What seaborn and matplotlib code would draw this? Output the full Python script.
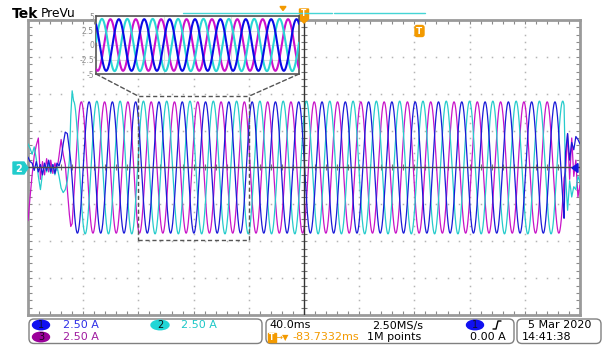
import numpy as np
import pandas as pd
import matplotlib
matplotlib.use("Agg")
import matplotlib.pyplot as plt
import seaborn as sns
from matplotlib.patches import Polygon, FancyBboxPatch, Ellipse, Rectangle, ConnectionPatch

# ---------------- data ----------------
channels = ["1", "2", "3"]                 # blue, cyan, magenta
peak_current_a = [4.45, 4.5, 4.45]         # steady peak current per channel (A)
lag_after_cyan_deg = [240.0, 0.0, 120.0]   # phase lag of each channel behind channel 2
line_period_ms = 16.88
first_cyan_peak_ms = 33.0
steady_start_ms = 33.0
steady_end_ms = 388.5

startup_t_ms = [0, 1.5, 3, 4.5, 6, 7.5, 9, 10.5, 12, 13.5, 15, 16.5, 18, 19.5,
                21, 22.5, 24, 25.5, 27, 28.5, 30, 31, 32]
startup_ch1 = [0.7, 0.4, 0.3, -0.2, 0.4, -0.3, 0.2, -0.5, 0.3, -0.2, 0.5, -0.3,
               0.2, -0.4, 0.3, 0.1, 0.6, 1.6, 2.4, 2.3, 1.2, 0.4, -0.8]
startup_ch2 = [1.6, 1.3, 0.9, 1.4, 0.6, -0.6, -1.5, -0.4, 0.2, -0.3, 0.3, -0.4,
               0.2, -0.5, 0.1, -0.6, -1.4, -1.7, -1.5, -0.9, 0.5, 3.5, 5.2]
startup_ch3 = [-3.6, -2.0, -0.5, 0.8, 1.5, 2.0, -0.8, 0.4, -0.5, 0.6, -0.3, 0.5,
               -0.4, 0.3, -0.2, 0.8, 1.9, 0.9, 0.2, -1.5, -3.2, -4.0, -3.8]

tail_t_ms = [389.5, 391, 392.5, 394, 395.5, 397, 398.5, 400]
tail_ch1 = [1.0, 2.3, 0.5, 1.7, 1.2, 2.1, 1.9, 1.6]
tail_ch2 = [-0.5, -2.9, -0.9, -2.0, -1.3, -1.5, -0.6, -1.0]
tail_ch3 = [-0.3, 2.3, -0.8, 2.0, -0.6, 0.5, -2.0, -1.2]

zoom_window_ms = [79.7, 160.5]       # dashed box on the main trace
zoom_window_a = [-4.9, 4.85]
inset_window_ms = [79.7, 214.7]      # span drawn in the magnified panel (about 8 cycles)
inset_ticks = [-5, -2.5, 0, 2.5, 5]
inset_tick_labels = ["-5", "-2.5", "0", "2.5", "5"]

scale_labels = ["2.50 A", "2.50 A", "2.50 A"]
timebase_label = "40.0ms"
sample_rate_label = "2.50MS/s"
trigger_pos_label = "-83.7332ms"
record_label = "1M points"
trigger_level_label = "0.00 A"
date_label = "5 Mar 2020"
time_label = "14:41:38"

# ---------------- styles ----------------
trace_colors = {"1": "#1a1ad8", "2": "#26cccc", "3": "#c814c8"}
inset_colors = {"1": "#0a0ae6", "2": "#2ad6d6", "3": "#cc10cc"}
label_colors = ["#2f2fe6", "#1ec8c8", "#a01ca0"]
pill_colors = ["#1010f0", "#22d6d6", "#9a009a"]
orange = "#f39a00"

# ---------------- build traces ----------------
startup = [startup_ch1, startup_ch2, startup_ch3]
tail = [tail_ch1, tail_ch2, tail_ch3]
t_steady = np.arange(steady_start_ms, steady_end_ms, 0.05)
frames = []
for k, ch in enumerate(channels):
    phase = 2 * np.pi * (t_steady - first_cyan_peak_ms) / line_period_ms - np.deg2rad(lag_after_cyan_deg[k])
    i_steady = peak_current_a[k] * np.cos(phase)
    t_all = np.concatenate([startup_t_ms, t_steady, tail_t_ms])
    i_all = np.concatenate([startup[k], i_steady, tail[k]])
    frames.append(pd.DataFrame({"t": t_all, "i": i_all, "ch": ch}))
df = pd.concat(frames, ignore_index=True)

sns.set_style("white")
plt.rcParams["font.family"] = ["DejaVu Sans"]

W, H = 605, 345
fig = plt.figure(figsize=(W / 100, H / 100), dpi=100)
fig.patch.set_facecolor("white")

def px_rect(x0, y0, x1, y1):
    return [x0 / W, 1 - y1 / H, (x1 - x0) / W, (y1 - y0) / H]

# ---------------- main graticule ----------------
ax = fig.add_axes(px_rect(28, 20, 580, 315))
ax.set_xlim(0, 400)
ax.set_ylim(-10, 10)
ax.set_xticks([])
ax.set_yticks([])
for s in ax.spines.values():
    s.set_color("#9a9a9a")
    s.set_linewidth(2)

gcol = "#b4b4b4"
ys_dots = np.arange(-10, 10.01, 0.5)
xs_dots = np.arange(0, 400.01, 8)
for xd in range(40, 400, 40):
    if xd != 200:
        ax.plot(np.full_like(ys_dots, xd), ys_dots, ls="", marker="s", ms=1.1, color=gcol, mew=0)
for yd in [-7.5, -5, -2.5, 2.5, 5, 7.5]:
    ax.plot(xs_dots, np.full_like(xs_dots, yd), ls="", marker="s", ms=1.1, color=gcol, mew=0)
ax.plot(xs_dots, np.full_like(xs_dots, 10), ls="", marker="|", ms=6, color="#8a8a8a", mew=0.8)
ax.plot(xs_dots, np.full_like(xs_dots, -10), ls="", marker="|", ms=6, color="#8a8a8a", mew=0.8)
ax.plot(np.full_like(ys_dots, 0), ys_dots, ls="", marker="_", ms=6, color="#8a8a8a", mew=0.8)
ax.plot(np.full_like(ys_dots, 400), ys_dots, ls="", marker="_", ms=6, color="#8a8a8a", mew=0.8)
ax.plot(xs_dots, np.zeros_like(xs_dots), ls="", marker="|", ms=4, color="#777777", mew=0.8)
ax.plot(np.full_like(ys_dots, 200), ys_dots, ls="", marker="_", ms=4, color="#777777", mew=0.8)

sns.lineplot(data=df, x="t", y="i", hue="ch", hue_order=["3", "2", "1"], palette=trace_colors,
             estimator=None, sort=False, lw=0.9, legend=False, ax=ax, zorder=3)
ax.axhline(0, color="#4a4a4a", lw=1, zorder=4)
ax.axvline(200, color="#333333", lw=1, zorder=4)
ax.set_xlabel("")
ax.set_ylabel("")

ax.add_patch(Rectangle((zoom_window_ms[0], zoom_window_a[0]),
                       zoom_window_ms[1] - zoom_window_ms[0], zoom_window_a[1] - zoom_window_a[0],
                       fill=False, ls=(0, (3, 2)), lw=1, ec="#555555", zorder=5))

# ---------------- overlay (pixel coordinates) ----------------
ov = fig.add_axes([0, 0, 1, 1], zorder=5)
ov.set_xlim(0, W)
ov.set_ylim(H, 0)
ov.axis("off")
ov.patch.set_alpha(0)

ov.text(12, 14, "Tek", fontsize=10, fontweight="bold", color="black", va="center", ha="left")
ov.text(41, 13.5, "PreVu", fontsize=8.8, color="black", va="center", ha="left")
ov.plot([183, 332], [13.3, 13.3], color="#45d5d5", lw=1)
ov.plot([334, 425], [13.3, 13.3], color="#45d5d5", lw=1)
ov.add_patch(Polygon([(280, 6.5), (286, 6.5), (283, 10.5)], color=orange))
ov.add_patch(Polygon([(299.5, 9), (308.5, 9), (308.5, 19), (304, 23), (299.5, 19)], color=orange))
ov.text(304, 14, "T", fontsize=5.5, color="white", ha="center", va="center", fontweight="bold")
ov.add_patch(FancyBboxPatch((415, 25.5), 9, 11, boxstyle="round,pad=0,rounding_size=2", color=orange))
ov.text(419.5, 31, "T", fontsize=6.5, color="white", ha="center", va="center", fontweight="bold")

ov.add_patch(Polygon([(13, 162), (24, 162), (28, 168), (24, 174), (13, 174)], color="#22cccc"))
ov.text(18.5, 168.5, "2", fontsize=7, color="white", ha="center", va="center", fontweight="bold")
ov.add_patch(Polygon([(572, 168), (578, 163.5), (578, 172.5)], color="#1414e0"))

for (x0, w) in [(29, 233), (266, 248), (517, 84)]:
    ov.add_patch(FancyBboxPatch((x0, 319), w, 24.5, boxstyle="round,pad=0,rounding_size=5",
                                fc="white", ec="#808080", lw=1))
fs = 8
r1, r2 = 325.5, 337.5
ov.add_patch(Ellipse((41, r1 - 0.5), 17, 9.5, color=pill_colors[0]))
ov.text(41, r1 - 0.5, "1", fontsize=7, color="#101030", ha="center", va="center")
ov.text(63, r1, scale_labels[0], fontsize=fs, color=label_colors[0], va="center")
ov.add_patch(Ellipse((160, r1 - 0.5), 18, 9.5, color=pill_colors[1]))
ov.text(160, r1 - 0.5, "2", fontsize=7, color="#101010", ha="center", va="center")
ov.text(181, r1, scale_labels[1], fontsize=fs, color=label_colors[1], va="center")
ov.add_patch(Ellipse((41, r2 - 0.5), 17, 9.5, color=pill_colors[2]))
ov.text(41, r2 - 0.5, "3", fontsize=7, color="#200020", ha="center", va="center")
ov.text(63, r2, scale_labels[2], fontsize=fs, color=label_colors[2], va="center")

ov.text(269, r1, timebase_label, fontsize=fs, color="black", va="center")
ov.text(372, r1, sample_rate_label, fontsize=fs, color="black", va="center")
ov.add_patch(Ellipse((475, r1 - 0.5), 17, 9.5, color=pill_colors[0]))
ov.text(475, r1 - 0.5, "1", fontsize=7, color="#101030", ha="center", va="center")
ov.plot([493, 496, 498, 501], [329, 329, 321, 321], color="black", lw=1)

ov.add_patch(Rectangle((268, 332.5), 7.5, 9.5, color=orange))
ov.text(271.8, 337.5, "T", fontsize=5.5, color="white", ha="center", va="center", fontweight="bold")
ov.text(276, r2, "→▼", fontsize=6, color=orange, va="center")
ov.text(292, r2, trigger_pos_label, fontsize=fs, color=orange, va="center")
ov.text(367, r2, record_label, fontsize=fs, color="black", va="center")
ov.text(470, r2, trigger_level_label, fontsize=fs, color="black", va="center")

ov.text(528, r1, date_label, fontsize=fs, color="black", va="center")
ov.text(522, r2, time_label, fontsize=fs, color="black", va="center")

# ---------------- zoom inset ----------------
ax_in = fig.add_axes(px_rect(96, 16, 299, 74), zorder=10)
ax_in.set_facecolor("white")
sub = df[(df["t"] >= inset_window_ms[0]) & (df["t"] <= inset_window_ms[1])]
sns.lineplot(data=sub, x="t", y="i", hue="ch", hue_order=["3", "2", "1"], palette=inset_colors,
             estimator=None, sort=False, lw=1.5, legend=False, ax=ax_in, zorder=3)
ax_in.set_xlim(inset_window_ms[0], inset_window_ms[1])
ax_in.set_ylim(-5, 5)
ax_in.set_yticks(inset_ticks)
ax_in.set_yticklabels(inset_tick_labels)
ax_in.set_xticks(np.linspace(inset_window_ms[0], inset_window_ms[1], 4)[1:-1])
ax_in.set_xticklabels([])
ax_in.tick_params(axis="y", labelsize=5.5, labelcolor="#8a8a8a", length=0, pad=1.5)
ax_in.tick_params(axis="x", length=0)
ax_in.grid(True, color="#dddddd", lw=0.8)
ax_in.set_xlabel("")
ax_in.set_ylabel("")
for s in ax_in.spines.values():
    s.set_color("#555555")
    s.set_linewidth(1.2)

for xa, xb in [(0, zoom_window_ms[0]), (1, zoom_window_ms[1])]:
    con = ConnectionPatch(xyA=(xa, 0), coordsA=ax_in.transAxes,
                          xyB=(xb, zoom_window_a[1]), coordsB=ax.transData,
                          ls=(0, (3, 2)), lw=1, color="#555555")
    fig.add_artist(con)

fig.savefig("out.png", dpi=100, facecolor="white")
